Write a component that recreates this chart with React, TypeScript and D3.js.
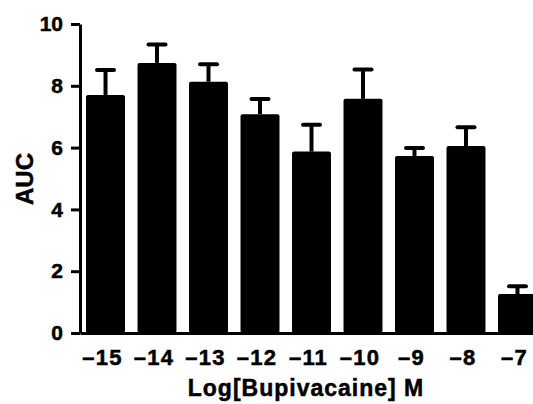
import React, { useEffect, useRef } from "react";
import * as d3 from "d3";

// Log[Bupivacaine] M doses and AUC (mean, SEM)
const doseLabels = ["–15", "–14", "–13", "–12", "–11", "–10", "–9", "–8", "–7"];
const aucMeans = [7.7, 8.74, 8.13, 7.08, 5.87, 7.58, 5.73, 6.05, 1.26];
const aucSem = [0.81, 0.6, 0.57, 0.49, 0.87, 0.95, 0.26, 0.61, 0.25];
const yTicks = [0, 2, 4, 6, 8, 10];

const App = () => {
  const chartRef = useRef(null);
  const width = 533;
  const height = 404;
  const marginLeft = 80;
  const yTop = 24;
  const yBottom = 333;
  const font = "'Liberation Sans', Arial, sans-serif";

  useEffect(() => {
    if (!chartRef.current) return;
    const svg = d3.select(chartRef.current);
    svg.selectAll("*").remove();

    const x = d3
      .scaleBand()
      .domain(doseLabels)
      .range([marginLeft, 543])
      .paddingInner(0.243)
      .paddingOuter(0.117);

    const y = d3.scaleLinear([0, 10], [yBottom, yTop]);

    const data = doseLabels.map((d, i) => ({
      dose: d,
      mean: aucMeans[i],
      sem: aucSem[i],
    }));

    // Error bars (upper half only, behind the bars)
    const err = svg.append("g").attr("stroke", "#000");
    err
      .selectAll("line.stem")
      .data(data)
      .join("line")
      .attr("class", "stem")
      .attr("stroke-width", 4)
      .attr("x1", (d) => x(d.dose) + x.bandwidth() / 2)
      .attr("x2", (d) => x(d.dose) + x.bandwidth() / 2)
      .attr("y1", (d) => y(d.mean))
      .attr("y2", (d) => y(d.mean + d.sem));
    err
      .selectAll("line.cap")
      .data(data)
      .join("line")
      .attr("class", "cap")
      .attr("stroke-width", 4)
      .attr("stroke-linecap", "round")
      .attr("x1", (d) => x(d.dose) + x.bandwidth() / 2 - 8.5)
      .attr("x2", (d) => x(d.dose) + x.bandwidth() / 2 + 8.5)
      .attr("y1", (d) => y(d.mean + d.sem))
      .attr("y2", (d) => y(d.mean + d.sem));

    // Bars
    svg
      .append("g")
      .selectAll("rect")
      .data(data)
      .join("rect")
      .attr("fill", "#000")
      .attr("rx", 2)
      .attr("x", (d) => x(d.dose))
      .attr("width", x.bandwidth())
      .attr("y", (d) => y(d.mean))
      .attr("height", (d) => y(0) - y(d.mean));

    // x-axis: baseline only, labels under bars
    svg
      .append("g")
      .attr("transform", `translate(0,${yBottom})`)
      .call(d3.axisBottom(x).tickSize(0).tickSizeOuter(0))
      .call((g) =>
        g.select(".domain").attr("stroke", "#000").attr("stroke-width", 3)
      )
      .call((g) =>
        g
          .selectAll(".tick text")
          .attr("y", 32)
          .attr("dy", null)
          .attr("dx", -3)
          .attr("fill", "#000")
          .attr("stroke", "#000")
          .attr("stroke-width", 0.5)
          .attr("font-family", font)
          .attr("font-weight", "bold")
          .attr("font-size", 22)
          .attr("letter-spacing", 1.2)
      );

    // y-axis
    svg
      .append("g")
      .attr("transform", `translate(${marginLeft},0)`)
      .call(
        d3
          .axisLeft(y)
          .tickValues(yTicks)
          .tickSize(9)
          .tickPadding(8)
          .tickSizeOuter(0)
      )
      .call((g) =>
        g.select(".domain").attr("stroke", "#000").attr("stroke-width", 3)
      )
      .call((g) =>
        g.selectAll(".tick line").attr("stroke", "#000").attr("stroke-width", 3)
      )
      .call((g) =>
        g
          .selectAll(".tick text")
          .attr("fill", "#000")
          .attr("stroke", "#000")
          .attr("stroke-width", 0.5)
          .attr("font-family", font)
          .attr("font-weight", "bold")
          .attr("font-size", 21)
      );

    // Axis titles
    svg
      .append("text")
      .attr("transform", `translate(33,179) rotate(-90)`)
      .attr("text-anchor", "middle")
      .attr("font-family", font)
      .attr("font-weight", "bold")
      .attr("font-size", 24)
      .attr("stroke", "#000")
      .attr("stroke-width", 0.5)
      .text("AUC");

    svg
      .append("text")
      .attr("x", 306)
      .attr("y", 396)
      .attr("text-anchor", "middle")
      .attr("font-family", font)
      .attr("font-weight", "bold")
      .attr("font-size", 23)
      .attr("letter-spacing", 1)
      .attr("stroke", "#000")
      .attr("stroke-width", 0.5)
      .text("Log[Bupivacaine] M");
  }, []);

  return (
    <svg
      ref={chartRef}
      width={width}
      height={height}
      viewBox={`0 0 ${width} ${height}`}
      style={{ position: "absolute", left: 0, top: 0, background: "#fff" }}
    />
  );
};

export default App;
